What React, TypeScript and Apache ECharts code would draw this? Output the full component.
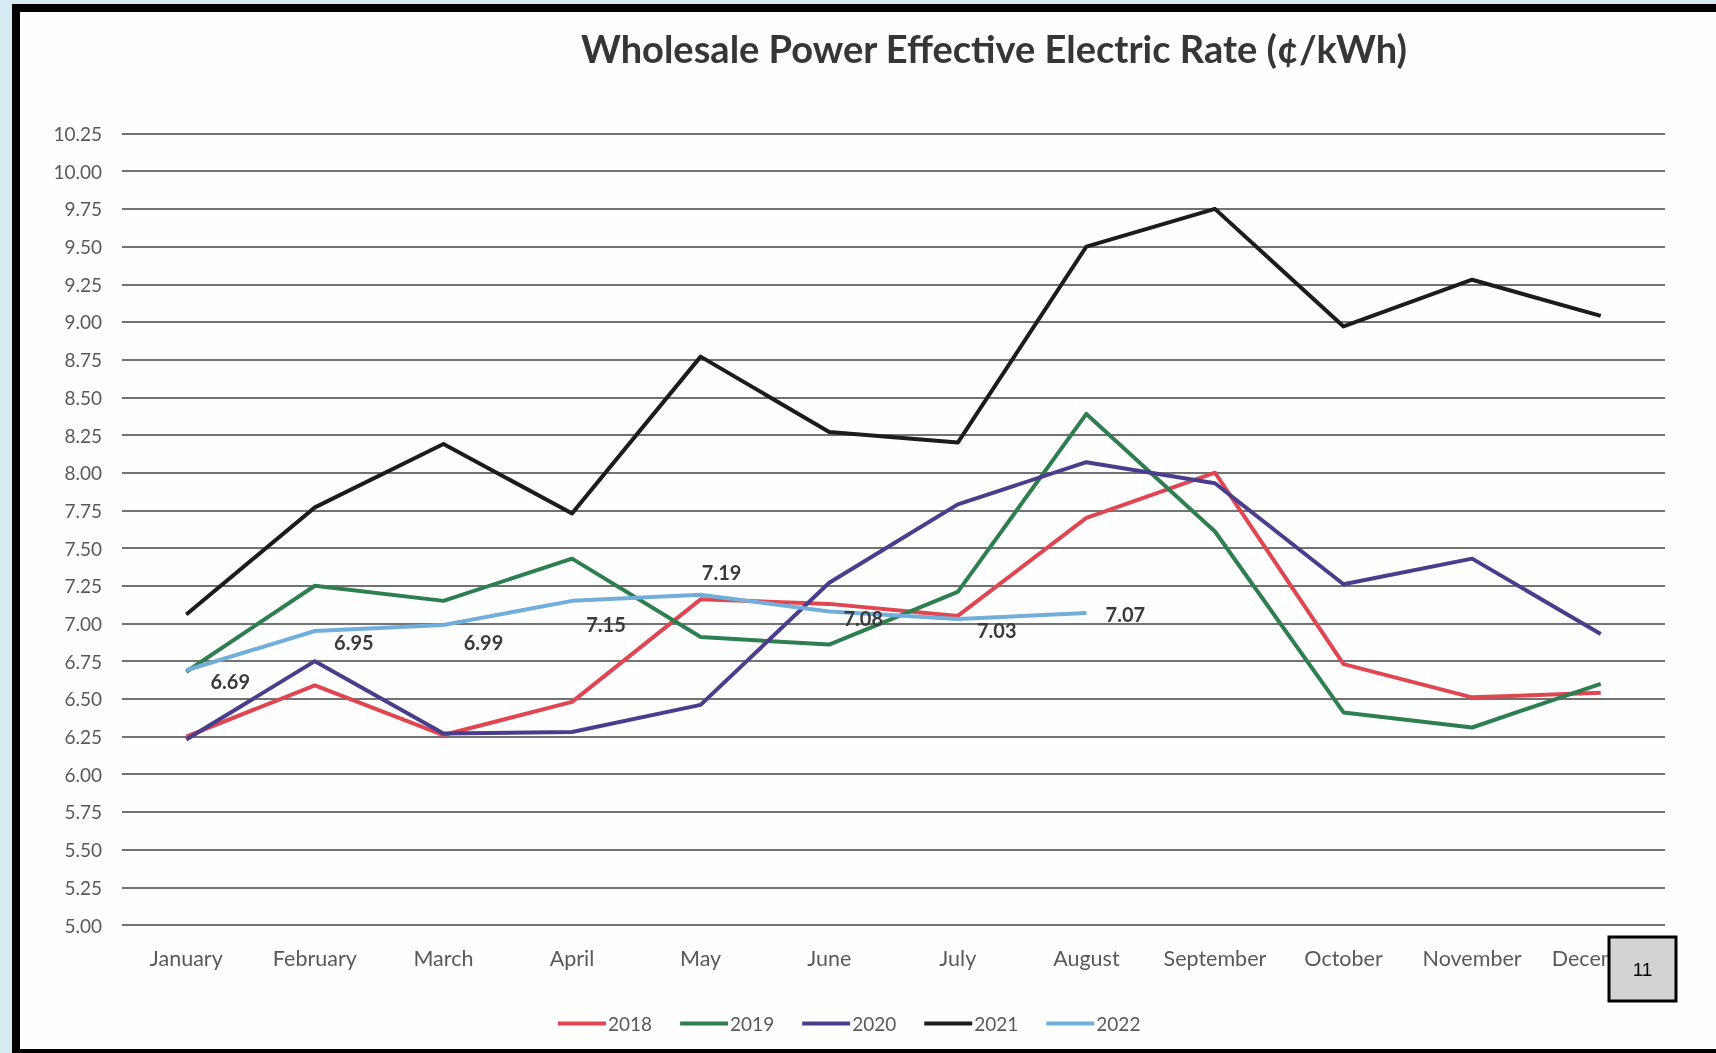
import React, { useEffect, useRef } from "react";
import * as echarts from "echarts";

const months = ["January", "February", "March", "April", "May", "June", "July", "August", "September", "October", "November", "December"];
const years = ["2018", "2019", "2020", "2021", "2022"];
const s2018 = [6.25, 6.59, 6.26, 6.48, 7.16, 7.13, 7.05, 7.7, 8.0, 6.73, 6.51, 6.54];
const s2019 = [6.68, 7.25, 7.15, 7.43, 6.91, 6.86, 7.21, 8.39, 7.61, 6.41, 6.31, 6.6];
const s2020 = [6.23, 6.75, 6.27, 6.28, 6.46, 7.27, 7.79, 8.07, 7.93, 7.26, 7.43, 6.93];
const s2021 = [7.06, 7.77, 8.19, 7.73, 8.77, 8.27, 8.2, 9.5, 9.75, 8.97, 9.28, 9.04];
const s2022 = [6.69, 6.95, 6.99, 7.15, 7.19, 7.08, 7.03, 7.07];
const yMin = 5;
const yMax = 10.25;
const yStep = 0.25;
const pageNumber = "11";

const colors = ["#df4650", "#2e7f4f", "#4a3d8c", "#1c1c1c", "#72aedb"];
const labelOffsets = [[44, 11], [39, 11], [40, 17], [34, 23], [21, -23], [34, 7], [39, 11], [39, 1]];

export default function App() {
  const ref = useRef<HTMLDivElement>(null);
  useEffect(() => {
    const chart = echarts.init(ref.current as HTMLDivElement, null, { renderer: "svg" });
    const all = [s2018, s2019, s2020, s2021, s2022];
    const series: any[] = all.map((d, i) => ({
      name: years[i],
      type: "line",
      data: i === 4
        ? d.map((v, j) => ({
            value: v,
            label: { offset: labelOffsets[j] },
          }))
        : d,
      showSymbol: i === 4,
      symbol: "circle",
      symbolSize: i === 4 ? 0 : 4,
      lineStyle: { color: colors[i], width: 4, join: "round" },
      itemStyle: { color: colors[i] },
      z: 2 + i,
      label: i === 4
        ? {
            show: true,
            position: "inside",
            formatter: (p: any) => Number(p.value).toFixed(2),
            fontFamily: "Lato",
            fontWeight: "bold",
            fontSize: 20,
            color: "#3a3a3a",
          }
        : { show: false },
    }));
    chart.setOption({
      animation: false,
      backgroundColor: "transparent",
      title: {
        text: "Wholesale Power Effective Electric Rate (¢/kWh)",
        left: 576,
        top: 24,
        textStyle: { fontFamily: "Lato", fontWeight: "bold", fontSize: 38, color: "#363636" },
      },
      legend: {
        data: years,
        left: 553,
        top: 1009,
        icon: "rect",
        itemWidth: 48,
        itemHeight: 4,
        itemGap: 28,
        textStyle: { fontFamily: "Lato", fontSize: 19, color: "#595959", padding: [0, 0, 0, -3] },
      },
      grid: { left: 122, right: 51, top: 133.5, bottom: 128, containLabel: false },
      xAxis: {
        type: "category",
        data: months,
        boundaryGap: true,
        axisLine: { show: false },
        axisTick: { show: false },
        axisLabel: { fontFamily: "Lato", fontSize: 21.5, color: "#595959", margin: 22, interval: 0 },
      },
      yAxis: {
        type: "value",
        min: yMin,
        max: yMax,
        interval: yStep,
        axisLine: { show: false },
        axisTick: { show: false },
        axisLabel: {
          fontFamily: "Lato",
          fontSize: 19,
          color: "#595959",
          margin: 20,
          formatter: (v: number) => v.toFixed(2),
        },
        splitLine: { show: true, lineStyle: { color: "#727272", width: 2 } },
      },
      graphic: [
        { type: "rect", z: -30, silent: true, shape: { x: 0, y: 0, width: 1716, height: 1053 }, style: { fill: "#d6ebf1" } },
        { type: "rect", z: -20, silent: true, shape: { x: 12, y: 4, width: 1704, height: 1049 }, style: { fill: "#000" } },
        { type: "rect", z: -10, silent: true, shape: { x: 20, y: 12, width: 1696, height: 1037 }, style: { fill: "#fefefe" } },
        {
          type: "rect",
          z: 100,
          shape: { x: 1609, y: 937, width: 67, height: 64 },
          style: { fill: "#d3d3d3", stroke: "#000", lineWidth: 3 },
        },
        {
          type: "text",
          z: 101,
          x: 1642.5,
          y: 969,
          style: {
            text: pageNumber,
            fontFamily: "Liberation Sans",
            fontSize: 19,
            fill: "#000",
            align: "center",
            verticalAlign: "middle",
          },
        },
      ],
      series,
    });
    return () => chart.dispose();
  }, []);
  return <div ref={ref} style={{ position: "fixed", left: 0, top: 0, width: 1716, height: 1053 }} />;
}
